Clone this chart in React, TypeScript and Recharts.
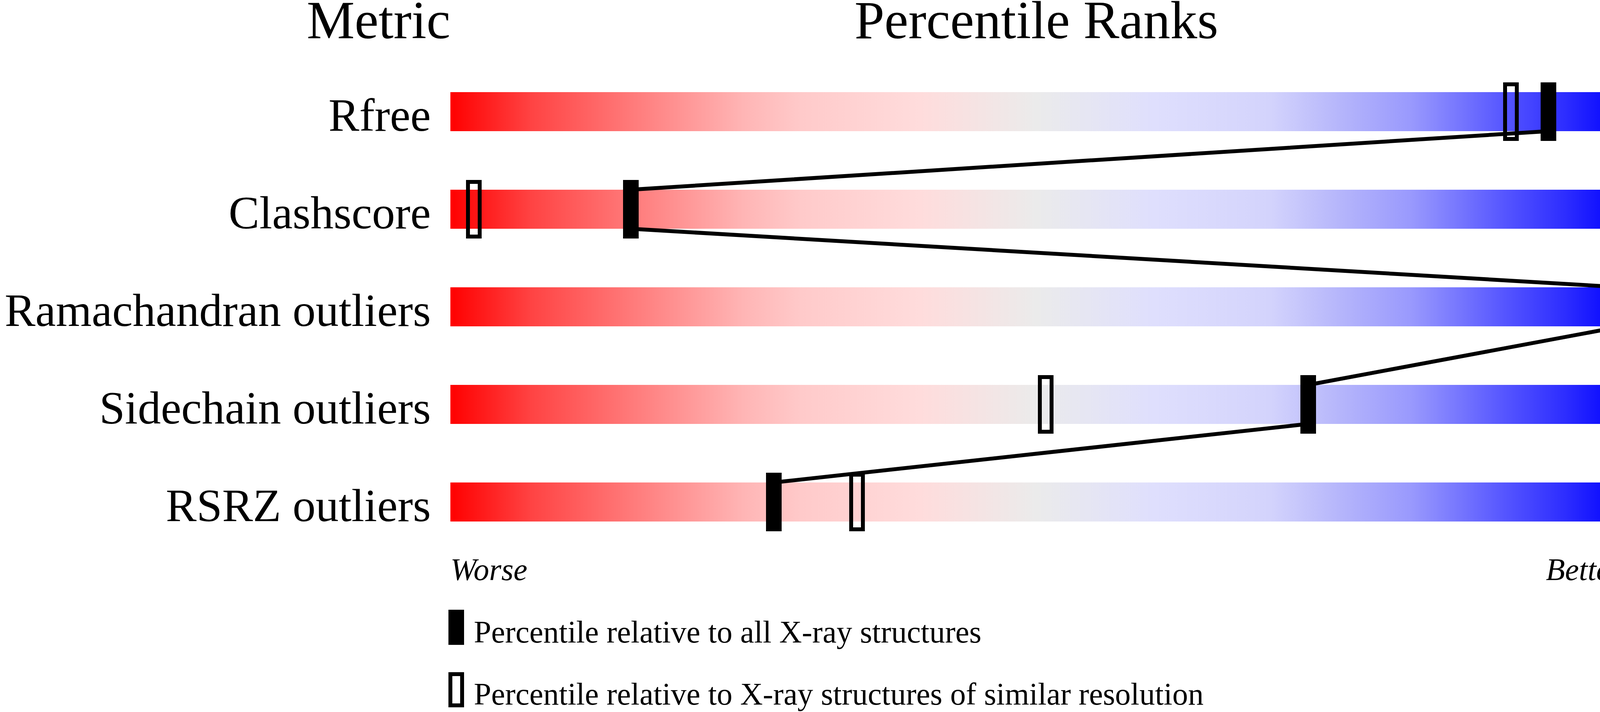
import { ComposedChart, XAxis, YAxis, Scatter, ReferenceArea } from "recharts";

const metrics = ["Rfree", "Clashscore", "Ramachandran outliers", "Sidechain outliers", "RSRZ outliers"];
const values = ["0.183", "14", "0", "0.8%", "6.0%"];
// percentile relative to all X-ray structures (filled markers)
const absolutePct = [93.7, 15.4, 100, 73.2, 27.6];
// percentile relative to structures of similar resolution (open markers)
const relativePct = [90.5, 2.0, 100, 50.8, 34.7];

const rows = metrics.map((_, i) => i);
const FONT = "'Liberation Serif', 'Times New Roman', serif";
const HALF = 0.2; // half bar height in row units

const absData = absolutePct.map((x, i) => ({ x, y: i }));
const relData = relativePct.map((x, i) => ({ x, y: i }));

// line goes from the bottom of one bar to the top of the next, through the filled markers
const linkData = absolutePct.flatMap((x, i) => {
  const pts = [];
  if (i > 0) pts.push({ x, y: i - HALF });
  if (i < absolutePct.length - 1) pts.push({ x, y: i + HALF });
  return pts;
});

const FilledMark = (props: any) => (
  <rect x={props.cx - 20} y={props.cy - 75} width={40} height={150} fill="#000" />
);

const OpenMark = (props: any) => (
  <rect
    x={props.cx - 15}
    y={props.cy - 70}
    width={30}
    height={140}
    fill="none"
    stroke="#000"
    strokeWidth={10}
  />
);

const MetricTick = (props: any) => {
  const { x, y, payload } = props;
  return (
    <text x={x} y={y + 49} textAnchor="end" fontFamily={FONT} fontSize={118} fill="#000">
      {metrics[payload.value]}
    </text>
  );
};

const ValueTick = (props: any) => {
  const { x, y, payload } = props;
  return (
    <text x={x} y={y + 50} textAnchor="start" fontFamily={FONT} fontSize={118} fill="#000">
      {values[payload.value]}
    </text>
  );
};

export default function App() {
  return (
    <div style={{ position: "absolute", left: 0, top: 0, background: "#fff" }}>
      <ComposedChart
        width={4485}
        height={1824}
        margin={{ top: 36, right: 0, bottom: 38, left: 0 }}
      >
        <defs>
          <linearGradient id="pgrad" x1="0" y1="0" x2="1" y2="0">
            <stop offset="0" stopColor="#ff0000" />
            <stop offset="0.07" stopColor="#ff4444" />
            <stop offset="0.15" stopColor="#ff7777" />
            <stop offset="0.25" stopColor="#ffb5b5" />
            <stop offset="0.3" stopColor="#ffcaca" />
            <stop offset="0.4" stopColor="#ffdcdc" />
            <stop offset="0.5" stopColor="#ebebeb" />
            <stop offset="0.6" stopColor="#dfdffd" />
            <stop offset="0.7" stopColor="#d3d3fc" />
            <stop offset="0.76" stopColor="#b5b5fb" />
            <stop offset="0.82" stopColor="#9999fd" />
            <stop offset="0.9" stopColor="#5555ff" />
            <stop offset="0.95" stopColor="#2e2eff" />
            <stop offset="1" stopColor="#0000ff" />
          </linearGradient>
        </defs>
        <XAxis type="number" dataKey="x" domain={[0, 100]} hide allowDataOverflow />
        <YAxis
          yAxisId="left"
          type="number"
          dataKey="y"
          domain={[-1, 6]}
          reversed
          ticks={rows}
          interval={0}
          width={1153}
          axisLine={false}
          tickLine={false}
          tickSize={0}
          tickMargin={50}
          tick={<MetricTick />}
        />
        <YAxis
          yAxisId="right"
          orientation="right"
          type="number"
          dataKey="y"
          domain={[-1, 6]}
          reversed
          ticks={rows}
          interval={0}
          width={332}
          axisLine={false}
          tickLine={false}
          tickSize={0}
          tickMargin={51}
          tick={<ValueTick />}
        />
        {rows.map((i) => (
          <ReferenceArea
            key={i}
            yAxisId="left"
            x1={0}
            x2={100}
            y1={i - HALF}
            y2={i + HALF}
            fill="url(#pgrad)"
            fillOpacity={1}
            stroke="none"
          />
        ))}
        <Scatter
          yAxisId="left"
          data={relData}
          shape={<OpenMark />}
          isAnimationActive={false}
          legendType="none"
        />
        <Scatter
          yAxisId="left"
          data={linkData}
          line={{ stroke: "#000", strokeWidth: 10 }}
          shape={() => <g />}
          isAnimationActive={false}
          legendType="none"
        />
        <Scatter
          yAxisId="left"
          data={absData}
          shape={<FilledMark />}
          isAnimationActive={false}
          legendType="none"
        />
        <text x={1153} y={98} textAnchor="end" fontFamily={FONT} fontSize={138}>Metric</text>
        <text x={2653} y={98} textAnchor="middle" fontFamily={FONT} fontSize={138}>Percentile Ranks</text>
        <text x={4153} y={98} textAnchor="start" fontFamily={FONT} fontSize={138}>Value</text>
        <text x={1153} y={1486} textAnchor="start" fontFamily={FONT} fontStyle="italic" fontSize={80}>Worse</text>
        <text x={4153} y={1486} textAnchor="end" fontFamily={FONT} fontStyle="italic" fontSize={80}>Better</text>
        <rect x={1148} y={1562} width={40} height={90} fill="#000" />
        <text x={1213} y={1646} fontFamily={FONT} fontSize={80}>Percentile relative to all X-ray structures</text>
        <rect x={1153} y={1727} width={30} height={80} fill="none" stroke="#000" strokeWidth={10} />
        <text x={1213} y={1805} fontFamily={FONT} fontSize={80}>Percentile relative to X-ray structures of similar resolution</text>
      </ComposedChart>
    </div>
  );
}
